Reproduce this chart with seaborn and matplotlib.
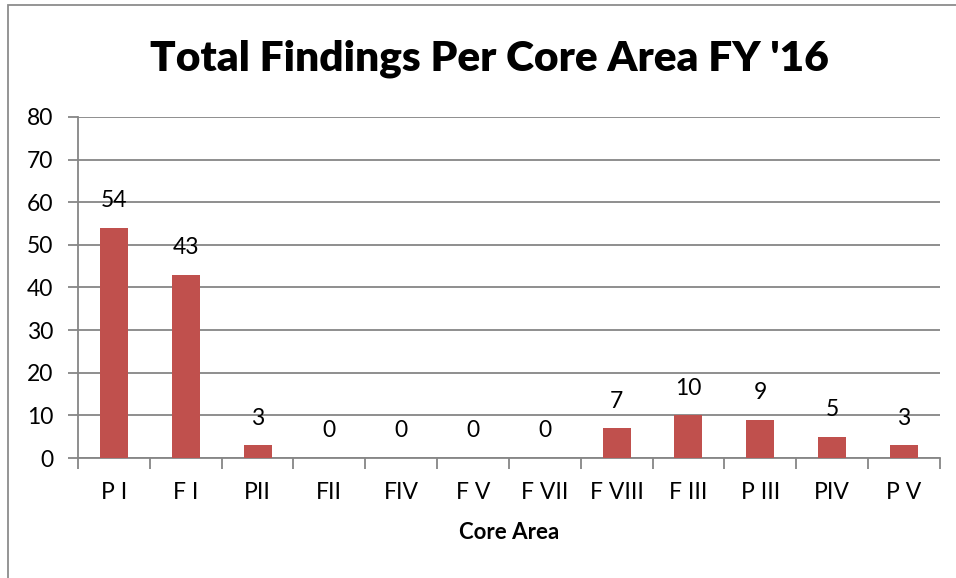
import matplotlib
matplotlib.use("Agg")
import matplotlib.pyplot as plt
import seaborn as sns
import pandas as pd
from matplotlib.patches import Rectangle

# data
core_areas = ["P I", "F I", "PII", "FII", "FIV", "F V", "F VII", "F VIII", "F III", "P III", "PIV", "P V"]
findings = [54, 43, 3, 0, 0, 0, 0, 7, 10, 9, 5, 3]
y_ticks = [0, 10, 20, 30, 40, 50, 60, 70, 80]

df = pd.DataFrame({"area": core_areas, "findings": findings})

sns.set_theme(style="white")
plt.rcParams["font.family"] = ["Lato", "DejaVu Sans"]
plt.rcParams["text.color"] = "black"
plt.rcParams["xtick.labelcolor"] = "black"
plt.rcParams["ytick.labelcolor"] = "black"

BAR = "#C0504D"
GRID = "#868686"

fig = plt.figure(figsize=(9.56, 5.78), dpi=100)
ax = fig.add_axes([0.0816, 0.2076, 0.9014, 0.59])

sns.barplot(data=df, x="area", y="findings", color=BAR, width=0.39,
            saturation=1, linewidth=0, ax=ax, zorder=3)

for i, v in enumerate(findings):
    ax.annotate(str(v), (i, v), xytext=(0, 12), textcoords="offset points",
                ha="center", va="bottom", fontsize=16.5, color="black")

ax.set_ylim(0, 80)
ax.set_xlim(-0.5, len(core_areas) - 0.5)
ax.set_yticks(y_ticks)
ax.yaxis.grid(True, color=GRID, linewidth=1.3, zorder=0)
ax.tick_params(axis="y", labelsize=16.5, length=7, width=1.3, color=GRID,
               direction="out", left=True, pad=11)
ax.tick_params(axis="x", which="major", labelsize=16.5, length=0, pad=17)
ax.set_xticks([i - 0.5 for i in range(len(core_areas) + 1)], minor=True)
ax.tick_params(axis="x", which="minor", length=8, width=1.3, color=GRID,
               direction="out", bottom=True)

for side in ["top", "right"]:
    ax.spines[side].set_visible(False)
for side in ["left", "bottom"]:
    ax.spines[side].set_color(GRID)
    ax.spines[side].set_linewidth(1.3)

ax.set_xlabel("Core Area", fontsize=16, fontweight="bold", labelpad=14, color="black")
ax.set_ylabel("")

fig.text(0.512, 0.898, "Total Findings Per Core Area FY '16", ha="center", va="center",
         fontsize=30.5, fontweight="heavy", color="black")

fig.patches.append(Rectangle((0.0084, -0.05), 1.2, 0.991 + 0.05, transform=fig.transFigure,
                             fill=False, edgecolor="#8c8c8c", linewidth=1.3))

fig.savefig("out.png", dpi=100)
